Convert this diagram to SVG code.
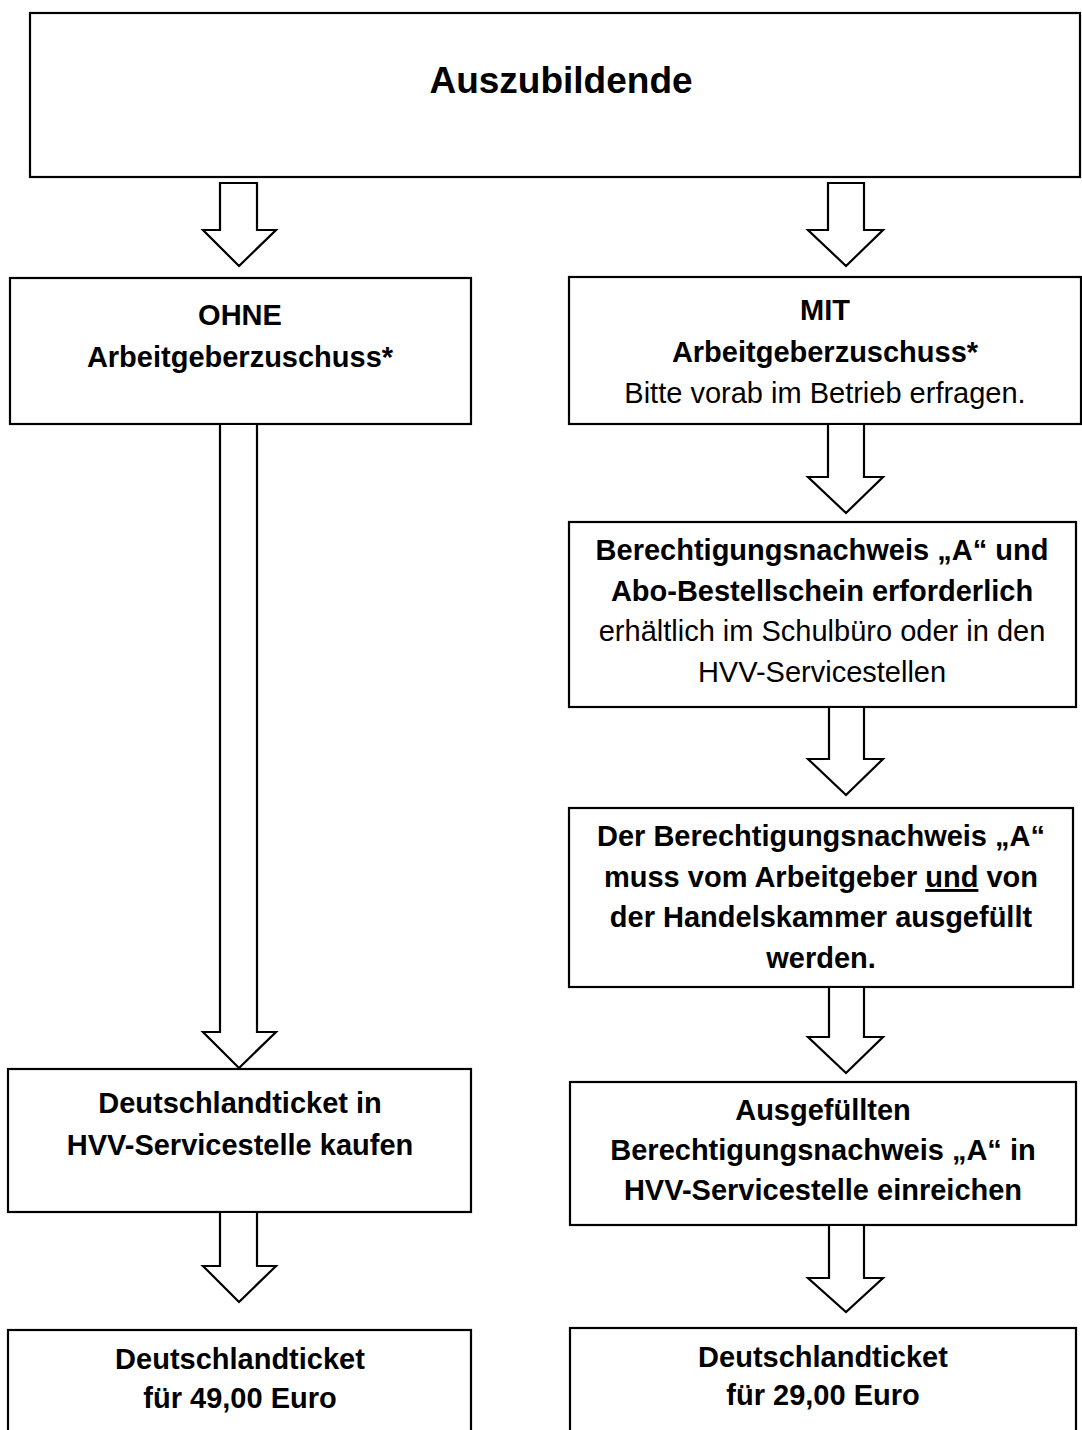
<svg xmlns="http://www.w3.org/2000/svg" width="1082" height="1430" viewBox="0 0 1082 1430">
<style>
.box{fill:#fff;stroke:#000;stroke-width:2.2}
.arr{fill:#fff;stroke:#000;stroke-width:2.2;stroke-linejoin:miter}
text{font-family:"Liberation Sans",Arial,sans-serif;font-size:29px;fill:#000;text-anchor:middle}
.b{font-weight:bold}
.title{font-size:37px;font-weight:bold}
.u{text-decoration:underline}
</style>
<rect width="1082" height="1430" fill="#fff"/>
<g id="n-auszubildende">
<rect class="box" x="30" y="13" width="1050" height="164"/>
<text class="title" x="561" y="93">Auszubildende</text>
</g>
<g id="n-ohne">
<rect class="box" x="10" y="278" width="461" height="146"/>
<text class="b" x="240" y="325">OHNE</text>
<text class="b" x="240" y="367">Arbeitgeberzuschuss*</text>
</g>
<g id="n-mit">
<rect class="box" x="569" y="277" width="512" height="147"/>
<text class="b" x="825" y="320">MIT</text>
<text class="b" x="825" y="362">Arbeitgeberzuschuss*</text>
<text x="825" y="403">Bitte vorab im Betrieb erfragen.</text>
</g>
<g id="n-nachweis">
<rect class="box" x="569" y="522" width="507" height="185"/>
<text class="b" x="822" y="560">Berechtigungsnachweis „A“ und</text>
<text class="b" x="822" y="601">Abo-Bestellschein erforderlich</text>
<text x="822" y="641">erhältlich im Schulbüro oder in den</text>
<text x="822" y="682">HVV-Servicestellen</text>
</g>
<g id="n-ausfuellen">
<rect class="box" x="569" y="808" width="504" height="179"/>
<text class="b" x="821" y="846">Der Berechtigungsnachweis „A“</text>
<text class="b" x="821" y="887">muss vom Arbeitgeber <tspan class="u">und</tspan> von</text>
<text class="b" x="821" y="927">der Handelskammer ausgefüllt</text>
<text class="b" x="821" y="968">werden.</text>
</g>
<g id="n-einreichen">
<rect class="box" x="570" y="1082" width="506" height="143"/>
<text class="b" x="823" y="1120">Ausgefüllten</text>
<text class="b" x="823" y="1160">Berechtigungsnachweis „A“ in</text>
<text class="b" x="823" y="1200">HVV-Servicestelle einreichen</text>
</g>
<g id="n-ticket29">
<rect class="box" x="570" y="1328" width="506" height="120"/>
<text class="b" x="823" y="1367">Deutschlandticket</text>
<text class="b" x="823" y="1405">für 29,00 Euro</text>
</g>
<g id="n-kaufen">
<rect class="box" x="8" y="1069" width="463" height="143"/>
<text class="b" x="240" y="1113">Deutschlandticket in</text>
<text class="b" x="240" y="1155">HVV-Servicestelle kaufen</text>
</g>
<g id="n-ticket49">
<rect class="box" x="8" y="1330" width="463" height="120"/>
<text class="b" x="240" y="1369">Deutschlandticket</text>
<text class="b" x="240" y="1408">für 49,00 Euro</text>
</g>
<g id="connectors">
<polygon class="arr" points="220,183 257,183 257,230 276,230 239,266 203,230 220,230"/>
<polygon class="arr" points="220,424 257,424 257,1032 276,1032 239,1068 203,1032 220,1032"/>
<polygon class="arr" points="220,1212 257,1212 257,1266 276,1266 239,1302 203,1266 220,1266"/>
<polygon class="arr" points="828,183 864,183 864,230 883,230 846,266 808,230 828,230"/>
<polygon class="arr" points="828,424 864,424 864,477 883,477 846,513 808,477 828,477"/>
<polygon class="arr" points="829,707 864,707 864,759 883,759 846,795 808,759 829,759"/>
<polygon class="arr" points="829,987 864,987 864,1037 883,1037 846,1073 808,1037 829,1037"/>
<polygon class="arr" points="829,1225 864,1225 864,1278 883,1278 846,1312 808,1278 829,1278"/>
</g>
</svg>
